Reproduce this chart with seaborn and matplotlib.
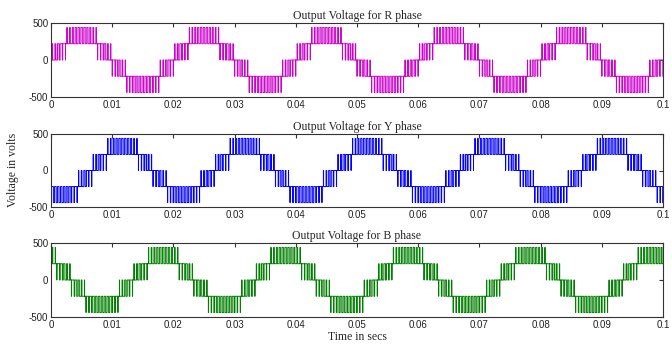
import numpy as np
import pandas as pd
import matplotlib
matplotlib.use("Agg")
import matplotlib.pyplot as plt
import seaborn as sns

# ---- data ----
phases = ["R", "Y", "B"]
colors = ["#CC00CC", "#0000FF", "#008000"]
fundamental_period = 0.02          # s (50 Hz)
n_cycles = 5
level_step = 220                   # V per level (levels -440..440)
# reference value (in level steps) sampled once per carrier slot,
# one quarter cycle (slots 0..10) read off the picture; 42 slots per cycle
quarter_ref = [0.113, 0.336, 0.552, 0.755, 0.942, 1.107, 1.248, 1.361, 1.443, 1.493, 1.510]
phase_slot_shift = {"R": 0, "Y": 14, "B": -14}   # 120 deg lag / lead = 14 slots
x_ticks = [0, 0.01, 0.02, 0.03, 0.04, 0.05, 0.06, 0.07, 0.08, 0.09, 0.1]
x_tick_labels = ["0", "0.01", "0.02", "0.03", "0.04", "0.05", "0.06", "0.07", "0.08", "0.09", "0.1"]
y_ticks = [-500, 0, 500]

# one full cycle of slot values (mirror of the quarter)
half = quarter_ref + quarter_ref[-2::-1]          # 21 slots
cycle = half + [-v for v in half]                 # 42 slots
slots_per_cycle = len(cycle)
slot_T = fundamental_period / slots_per_cycle


def waveform(shift):
    ref = np.tile(np.roll(np.array(cycle), shift), n_cycles)
    ts, vs = [], []
    for k, r in enumerate(ref):
        low = np.floor(r)
        d = r - low
        t0 = k * slot_T
        ts += [t0, t0 + (1 - d) / 2 * slot_T, t0 + (1 + d) / 2 * slot_T]
        vs += [low * level_step, (low + 1) * level_step, low * level_step]
    ts.append(len(ref) * slot_T)
    vs.append(vs[-1])
    return pd.DataFrame({"t": ts, "v": vs})


sns.set_theme(style="white")
plt.rcParams["font.family"] = ["Liberation Sans", "DejaVu Sans"]
plt.rcParams["axes.unicode_minus"] = False

fig = plt.figure(figsize=(6.72, 3.47), dpi=100)
W, H = 672, 347
boxes = [(23, 97), (134, 207), (243, 317)]
left, right = 51, 663

for i, (ph, col) in enumerate(zip(phases, colors)):
    top, bot = boxes[i]
    ax = fig.add_axes([left / W, 1 - bot / H, (right - left) / W, (bot - top) / H])
    df = waveform(phase_slot_shift[ph])
    sns.lineplot(data=df, x="t", y="v", ax=ax, color=col, linewidth=0.7,
                 drawstyle="steps-post", estimator=None, sort=False)
    ax.set_xlim(0, 0.1)
    ax.set_ylim(-500, 500)
    ax.set_xticks(x_ticks)
    ax.set_xticklabels(x_tick_labels)
    ax.set_yticks(y_ticks)
    ax.tick_params(direction="in", length=3, width=0.8, labelsize=7,
                   labelcolor="#222222", top=True, right=True, pad=2, color="#333333")
    for s in ax.spines.values():
        s.set_color("#333333")
        s.set_linewidth(0.8)
    ax.set_xlabel("")
    ax.set_ylabel("")
    ax.set_title(f"Output Voltage for {ph} phase", family="Liberation Serif",
                 fontsize=8.5, pad=3)
    if i == 2:
        ax.set_xlabel("Time in secs", family="Liberation Serif", fontsize=8.5, labelpad=1)

fig.text(13 / W, 1 - 170 / H, "Voltage in volts", rotation=90, ha="center", va="center",
         family="Liberation Serif", fontsize=8.5)

fig.savefig("out.png", dpi=100)
